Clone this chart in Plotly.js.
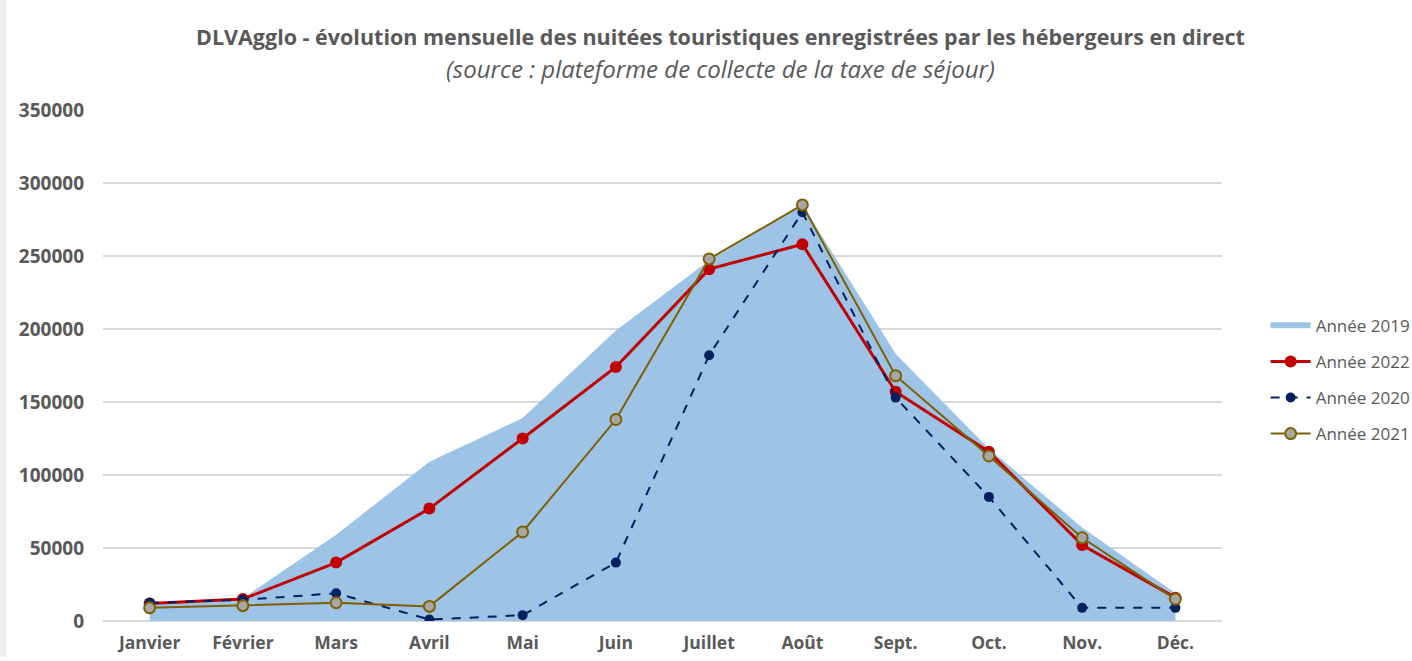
<!DOCTYPE html>
<html>
<head>
<meta charset="utf-8">
<script src="https://cdn.plot.ly/plotly-3.0.1.min.js"></script>
<style>
html,body{margin:0;padding:0;background:#fff;}
#chart{width:1412px;height:661px;}
</style>
</head>
<body>
<div id="chart"></div>
<script>
const months = ["Janvier","Février","Mars","Avril","Mai","Juin","Juillet","Août","Sept.","Oct.","Nov.","Déc."];
const annee2019 = [12000,15500,59000,109000,139000,199000,247000,285000,183000,118000,64000,19000];
const annee2022 = [12000,15000,40000,77000,125000,174000,241000,258000,157000,116000,52000,16000];
const annee2020 = [12500,14500,19000,1000,4000,40000,182000,280000,153000,85000,9000,9000];
const annee2021 = [9000,10500,12500,10000,61000,138000,248000,285000,168000,113000,57000,15000];
const yTicks = [0,50000,100000,150000,200000,250000,300000,350000];
const titleText = "DLVAgglo - évolution mensuelle des nuitées touristiques enregistrées par les hébergeurs en direct";
const subtitleText = "(source : plateforme de collecte de la taxe de séjour)";

const FONT = "'Open Sans', 'Noto Sans', sans-serif";

const traces = [
  {x: months, y: annee2019, name: "Année 2019", type: "scatter", mode: "none",
   fill: "tozeroy", fillcolor: "#9dc3e6", legendgroup: "a"},
  {x: months, y: annee2022, name: "Année 2022", type: "scatter", mode: "lines+markers",
   line: {color: "#c00000", width: 3}, marker: {color: "#c00000", size: 12}, legendgroup: "b"},
  {x: months, y: annee2020, name: "Année 2020", type: "scatter", mode: "lines+markers",
   line: {color: "#002060", width: 2, dash: "dash"}, marker: {color: "#002060", size: 10}, legendgroup: "c"},
  {x: months, y: annee2021, name: "Année 2021", type: "scatter", mode: "lines+markers",
   line: {color: "#7f6000", width: 2}, marker: {color: "#a6a6a6", size: 11, line: {color: "#7f6000", width: 2}}, legendgroup: "d"}
];

const layout = {
  width: 1412, height: 661,
  paper_bgcolor: "#ffffff", plot_bgcolor: "#ffffff",
  margin: {l: 103, r: 190, t: 110, b: 40, autoexpand: false},
  font: {family: FONT, color: "#595959"},
  xaxis: {
    type: "category", range: [-0.5, 11.5], showgrid: false, zeroline: false,
    showline: false, ticks: "", tickfont: {size: 17.5, color: "#595959", weight: "bold"},
    ticklabelstandoff: 9, fixedrange: true
  },
  yaxis: {
    range: [0, 350000], tickvals: yTicks, ticktext: yTicks.map(String),
    showgrid: true, gridcolor: "#d9d9d9", gridwidth: 1.5,
    zeroline: true, zerolinecolor: "#d9d9d9", zerolinewidth: 1.5,
    ticks: "", tickfont: {size: 19, color: "#595959", weight: "bold"},
    ticklabelstandoff: 18, fixedrange: true
  },
  legend: {
    x: 1.039, xanchor: "left", y: 0.613, yanchor: "top",
    font: {size: 17, color: "#595959"}, tracegroupgap: 11,
    bgcolor: "rgba(0,0,0,0)", itemwidth: 40
  },
  annotations: [
    {text: "<b>" + titleText + "</b>", xref: "paper", yref: "paper",
     x: (720 - 103) / 1119, y: 1 + (110 - 36) / 511, xanchor: "center", yanchor: "middle",
     showarrow: false, font: {family: FONT, size: 21.5, color: "#595959"}},
    {text: "<i>" + subtitleText + "</i>", xref: "paper", yref: "paper",
     x: (720 - 103) / 1119, y: 1 + (110 - 68) / 511, xanchor: "center", yanchor: "middle",
     showarrow: false, font: {family: FONT, size: 24, color: "#595959"}}
  ],
  shapes: [
    {type: "rect", xref: "paper", yref: "paper", x0: -0.092, x1: -0.086, y0: -0.07, y1: 1.22,
     fillcolor: "#eeeeee", line: {width: 0}, layer: "below"}
  ],
  showlegend: true
};

Plotly.newPlot("chart", traces, layout, {displayModeBar: false, staticPlot: true});
</script>
</body>
</html>
